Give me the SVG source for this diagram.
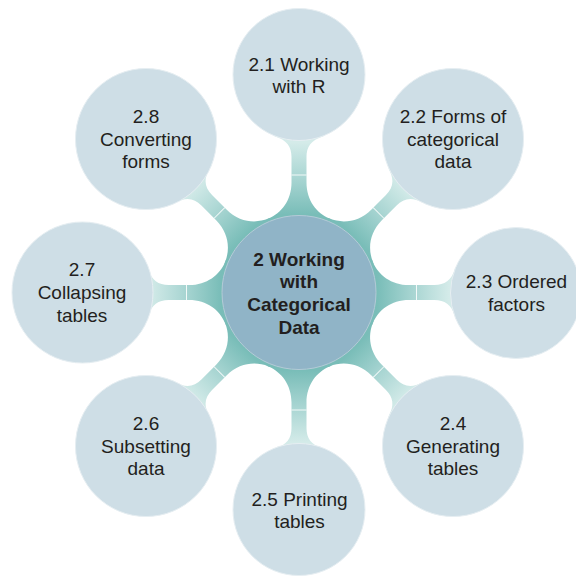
<svg xmlns="http://www.w3.org/2000/svg" xmlns:xlink="http://www.w3.org/1999/xlink" width="576" height="577" viewBox="0 0 576 577">
  <style>
    .outer { fill: #cedee6; stroke: #e6eef2; stroke-width: 1; }
    .center { fill: #90b4c7; stroke: #b4cbd7; stroke-width: 1; }
    .lbl { font-family: "Liberation Sans", Arial, Helvetica, sans-serif; font-size: 19px; fill: #231f20; text-anchor: middle; }
    .clbl { font-family: "Liberation Sans", Arial, Helvetica, sans-serif; font-size: 19px; font-weight: bold; fill: #231f20; text-anchor: middle; }
    .neck { fill: url(#neckGrad); }
    .sep { stroke: #ffffff; stroke-width: 1; stroke-opacity: 0.85; }
  </style>
  <defs>
    <linearGradient id="neckGrad" gradientUnits="userSpaceOnUse" x1="0" y1="-150" x2="0" y2="-78">
      <stop offset="0" stop-color="#d4ebe9"/>
      <stop offset="0.5" stop-color="#a8d5d2"/>
      <stop offset="1" stop-color="#79bdb8"/>
    </linearGradient>
    <g id="neckA">
      <path class="neck" d="M0 0 L32.4 -73.1 L30.6 -73.9 C17.7 -79.3 7.5 -92 7.5 -110 L7.5 -135.5 C7.5 -145.5 12 -152.5 24 -156 L34 -165.5 L-34 -165.5 L-24 -156 C-12 -152.5 -7.5 -145.5 -7.5 -135.5 L-7.5 -110 C-7.5 -92 -17.7 -79.3 -30.6 -73.9 L-32.4 -73.1 Z"/>
      <line class="sep" x1="-7.5" y1="-117.5" x2="7.5" y2="-117.5"/>
    </g>
    <g id="neckB">
      <path class="neck" d="M0 0 L32.4 -73.1 L30.6 -73.9 C17.7 -79.3 7.5 -92 7.5 -110 L7.5 -130.5 C7.5 -140.5 12 -147.5 24 -150.8 L34 -160.5 L-34 -160.5 L-24 -150.8 C-12 -147.5 -7.5 -140.5 -7.5 -130.5 L-7.5 -110 C-7.5 -92 -17.7 -79.3 -30.6 -73.9 L-32.4 -73.1 Z"/>
      <line class="sep" x1="-7.5" y1="-112.5" x2="7.5" y2="-112.5"/>
    </g>
  </defs>

  <g id="connectors">
    <use xlink:href="#neckA" href="#neckA" transform="translate(299 292.5) rotate(0)"/>
    <use xlink:href="#neckB" href="#neckB" transform="translate(299 292.5) rotate(45)"/>
    <use xlink:href="#neckA" href="#neckA" transform="translate(299 292.5) rotate(90)"/>
    <use xlink:href="#neckB" href="#neckB" transform="translate(299 292.5) rotate(135)"/>
    <use xlink:href="#neckA" href="#neckA" transform="translate(299 292.5) rotate(180)"/>
    <use xlink:href="#neckB" href="#neckB" transform="translate(299 292.5) rotate(225)"/>
    <use xlink:href="#neckB" href="#neckB" transform="translate(299 292.5) rotate(270)"/>
    <use xlink:href="#neckB" href="#neckB" transform="translate(299 292.5) rotate(315)"/>
  </g>

  <g id="node-center">
    <circle class="center" cx="299" cy="292.5" r="77"/>
    <text class="clbl" x="299" y="265.5">2 Working</text>
    <text class="clbl" x="299" y="288.3">with</text>
    <text class="clbl" x="299" y="311.1">Categorical</text>
    <text class="clbl" x="299" y="333.9">Data</text>
  </g>

  <g id="node-2-1">
    <circle class="outer" cx="299" cy="74.5" r="66"/>
    <text class="lbl" x="299" y="70.5">2.1 Working</text>
    <text class="lbl" x="299" y="93.2">with R</text>
  </g>

  <g id="node-2-2">
    <circle class="outer" cx="453" cy="139" r="70.5"/>
    <text class="lbl" x="453" y="123.2">2.2 Forms of</text>
    <text class="lbl" x="453" y="145.8">categorical</text>
    <text class="lbl" x="453" y="168.4">data</text>
  </g>

  <g id="node-2-3">
    <circle class="outer" cx="516" cy="293" r="65.5"/>
    <text class="lbl" x="516.5" y="288.2">2.3 Ordered</text>
    <text class="lbl" x="516.5" y="310.8">factors</text>
  </g>

  <g id="node-2-4">
    <circle class="outer" cx="453" cy="446" r="70.5"/>
    <text class="lbl" x="453" y="430">2.4</text>
    <text class="lbl" x="453" y="452.6">Generating</text>
    <text class="lbl" x="453" y="475.2">tables</text>
  </g>

  <g id="node-2-5">
    <circle class="outer" cx="299" cy="509.5" r="66"/>
    <text class="lbl" x="299.5" y="505.5">2.5 Printing</text>
    <text class="lbl" x="299.5" y="528">tables</text>
  </g>

  <g id="node-2-6">
    <circle class="outer" cx="146" cy="446" r="70.5"/>
    <text class="lbl" x="146" y="430">2.6</text>
    <text class="lbl" x="146" y="452.6">Subsetting</text>
    <text class="lbl" x="146" y="475.2">data</text>
  </g>

  <g id="node-2-7">
    <circle class="outer" cx="82.5" cy="292.5" r="70.5"/>
    <text class="lbl" x="82" y="276">2.7</text>
    <text class="lbl" x="82" y="298.8">Collapsing</text>
    <text class="lbl" x="82" y="321.5">tables</text>
  </g>

  <g id="node-2-8">
    <circle class="outer" cx="146" cy="139" r="70.5"/>
    <text class="lbl" x="146" y="123">2.8</text>
    <text class="lbl" x="146" y="145.8">Converting</text>
    <text class="lbl" x="146" y="168.2">forms</text>
  </g>
</svg>
